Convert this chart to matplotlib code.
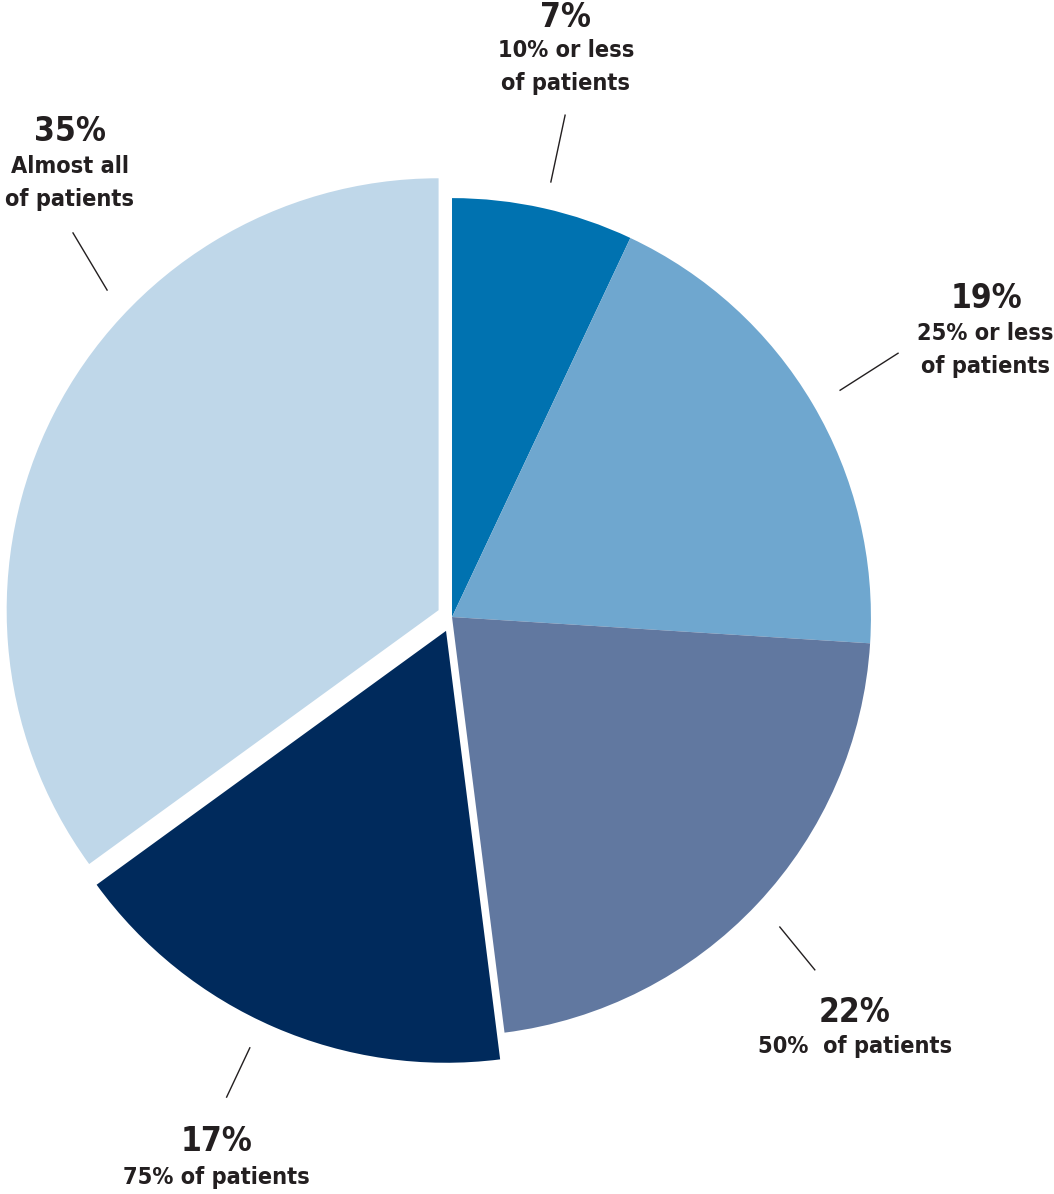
import numpy as np
import matplotlib.pyplot as plt

# share of respondents per answer
pcts = [7, 19, 22, 17, 35]
pct_labels = ["7%", "19%", "22%", "17%", "35%"]
captions = ["10% or less\nof patients", "25% or less\nof patients", "50%  of patients",
            "75% of patients", "Almost all\nof patients"]
colors = ["#0072b0", "#6fa7cf", "#6178a0", "#002a5c", "#bfd7e9"]
explode = [0, 0, 0, 0.036, 0.036]

# leader lines: (angle deg, radius) at wedge end and at label end
line_a0 = [77.2, 30.3, -43.4, -115.2, 136.0]
line_r0 = [1.065, 1.073, 1.077, 1.10, 1.10]
line_a1 = [77.3, 30.6, -44.2, -115.2, 134.1]
line_r1 = [1.228, 1.237, 1.208, 1.23, 1.254]
pct_xy = [(0.272, 1.432), (1.277, 0.761), (0.962, -0.943), (-0.563, -1.251), (-0.912, 1.158)]
cap_xy = [(0.272, 1.313), (1.274, 0.637), (0.962, -1.026), (-0.563, -1.337), (-0.912, 1.035)]

plt.rcParams['font.family'] = ['DejaVu Sans']
txt_color = "#231f20"

fig = plt.figure(figsize=(10.54, 11.94), dpi=100)
ax = fig.add_axes([0, 0, 1, 1])

wedges, _ = ax.pie(pcts, colors=colors, startangle=90, counterclock=False,
                   explode=explode, radius=1, wedgeprops=dict(linewidth=0))
for w, e in zip(wedges, explode):
    if e > 0:
        w.set_radius(1.031)

for i, w in enumerate(wedges):
    cx, cy = w.center
    a0 = np.deg2rad(line_a0[i])
    a1 = np.deg2rad(line_a1[i])
    ax.plot([cx + line_r0[i] * np.cos(a0), cx + line_r1[i] * np.cos(a1)],
            [cy + line_r0[i] * np.sin(a0), cy + line_r1[i] * np.sin(a1)],
            color=txt_color, lw=1.0)
    ax.text(pct_xy[i][0], pct_xy[i][1], pct_labels[i], ha="center", va="center",
            fontsize=24, fontweight="bold", fontstretch="condensed", color=txt_color)
    ax.text(cap_xy[i][0], cap_xy[i][1], captions[i], ha="center", va="center",
            fontsize=16.8, fontweight="bold", fontstretch="condensed", color=txt_color,
            linespacing=1.55)

ax.set_xlim(-1.079, 1.437)
ax.set_ylim(-1.377, 1.4726)
ax.set_aspect('equal')
ax.axis('off')

fig.savefig("out.png", dpi=100)
